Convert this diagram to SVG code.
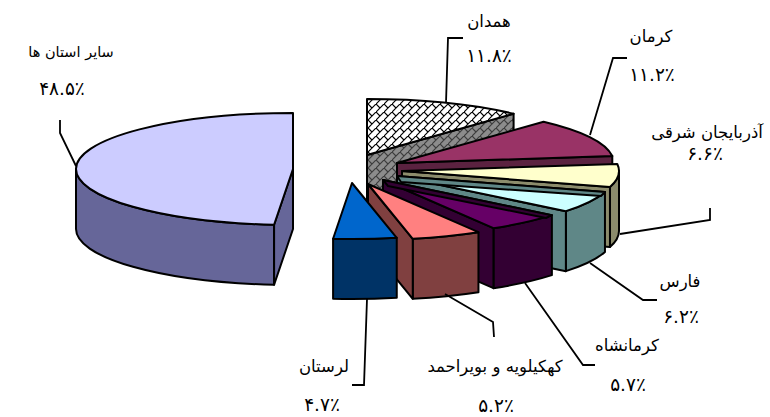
<svg xmlns="http://www.w3.org/2000/svg" width="770" height="417" viewBox="0 0 770 417">
<defs>
<pattern id="brickW" width="8" height="8" patternUnits="userSpaceOnUse">
<rect width="8" height="8" fill="#ffffff"/>
<path d="M-1,9 L9,-1 M0,0 L4,4" stroke="#000" stroke-width="1.2" fill="none"/>
</pattern>
<pattern id="brickG" width="8" height="8" patternUnits="userSpaceOnUse">
<rect width="8" height="8" fill="#8c8c8c"/>
<path d="M-1,9 L9,-1 M0,0 L4,4" stroke="#3c3c3c" stroke-width="1.2" fill="none"/>
</pattern>
</defs>
<style>
.f{stroke:#000;stroke-width:2;stroke-linejoin:round}
.ld{fill:none;stroke:#000;stroke-width:1.8}
text{font-family:"DejaVu Sans",sans-serif;font-size:16.5px;fill:#000;text-anchor:middle;direction:rtl}
text.n{font-size:18.5px}
text.s{font-size:14.5px}
</style>
<rect width="770" height="417" fill="#fff"/>

<g id="sayer">
<path class="f" fill="#666699" d="M76,169 A217,56 0 0 0 274.09,224.79 L274.09,284.79 A217,56 0 0 1 76,229 Z"/>
<path class="f" fill="#666699" d="M274.09,224.79 L293,169 L293,229 L274.09,284.79 Z"/>
<path class="f" fill="#CCCCFF" d="M293,169 L293,113 A217,56 0 0 0 76,169 A217,56 0 0 0 274.09,224.79 Z"/>
</g>

<g id="hamadan">
<path class="f" fill="url(#brickG)" d="M367,155 L513.6,113.71 L513.6,173.71 L367,215 Z"/>
<path class="f" fill="url(#brickW)" d="M367,155 L367,99 A217,56 0 0 1 513.6,113.71 Z"/>
</g>

<g id="kerman">
<path class="f" fill="#5B2240" d="M397,163 L612.29,155.98 L612.29,215.98 L397,223 Z"/>
<path class="f" fill="#993366" d="M397,163 L543.6,121.71 A217,56 0 0 1 612.29,155.98 Z"/>
</g>

<g id="azarbaijan">
<path class="f" fill="#8C8C6C" d="M609.96,187 A217,56 0 0 0 619,171 L619,231 A217,56 0 0 1 609.96,247 Z"/>
<path class="f" fill="#8C8C6C" d="M402,171 L609.96,187 L609.96,247 L402,231 Z"/>
<path class="f" fill="#FFFFCC" d="M402,171 L617.29,163.98 A217,56 0 0 1 609.96,187 Z"/>
</g>

<g id="fars">
<path class="f" fill="#5F8787" d="M565.88,211.17 A217,56 0 0 0 604.96,192 L604.96,252 A217,56 0 0 1 565.88,271.17 Z"/>
<path class="f" fill="#5F8787" d="M397,176 L565.88,211.17 L565.88,271.17 L397,236 Z"/>
<path class="f" fill="#CCFFFF" d="M397,176 L604.96,192 A217,56 0 0 1 565.88,211.17 Z"/>
<path class="f" fill="#5F8787" d="M397,176 L604.96,192 L601,196 L401,182 Z"/>
</g>

<g id="kermanshah">
<path class="f" fill="#330033" d="M493.46,228.2 A217,56 0 0 0 551.88,215.17 L551.88,275.17 A217,56 0 0 1 493.46,288.2 Z"/>
<path class="f" fill="#330033" d="M383,180 L493.46,228.2 L493.46,288.2 L383,240 Z"/>
<path class="f" fill="#660066" d="M383,180 L551.88,215.17 A217,56 0 0 1 493.46,228.2 Z"/>
<path class="f" fill="#330033" d="M383,180 L551.88,215.17 L546,218 L388,186 Z"/>
</g>

<g id="kohgiluyeh">
<path class="f" fill="#804040" d="M412.75,238.8 A217,56 0 0 0 478.46,232.2 L478.46,292.2 A217,56 0 0 1 412.75,298.8 Z"/>
<path class="f" fill="#804040" d="M368,184 L412.75,238.8 L412.75,298.8 L368,244 Z"/>
<path class="f" fill="#FF8080" d="M368,184 L478.46,232.2 A217,56 0 0 1 412.75,238.8 Z"/>
</g>

<g id="lorestan">
<path class="f" fill="#003366" d="M333.09,238.79 A217,56 0 0 0 396.75,237.8 L396.75,297.8 A217,56 0 0 1 333.09,298.79 Z"/>
<path class="f" fill="#0066CC" d="M352,183 L396.75,237.8 A217,56 0 0 1 333.09,238.79 Z"/>
</g>

<g id="connectors">
<polyline class="ld" points="60,120 60,133 76,166"/>
<polyline class="ld" points="446,103 448,38 463,38"/>
<polyline class="ld" points="590,135 613,58 627,58"/>
<polyline class="ld" points="620,234 710,220 710,208"/>
<polyline class="ld" points="590,263 643,300 657,300"/>
<polyline class="ld" points="525,283 583,365 595,365"/>
<polyline class="ld" points="445,294 493,322 494,337"/>
<polyline class="ld" points="367,299 364,385 352,385"/>
</g>

<g id="labels">
<text class="s" x="71" y="57">سایر استان ها</text>
<text class="n" x="62" y="95">۴۸.۵٪</text>
<text x="489" y="27">همدان</text>
<text class="n" x="489" y="62">۱۱.۸٪</text>
<text x="651" y="42">کرمان</text>
<text class="n" x="652" y="81">۱۱.۲٪</text>
<text x="707" y="138">آذربایجان شرقی</text>
<text class="n" x="705" y="160">۶.۶٪</text>
<text x="680" y="287">فارس</text>
<text class="n" x="681" y="323">۶.۲٪</text>
<text x="627" y="351">کرمانشاه</text>
<text class="n" x="628" y="391">۵.۷٪</text>
<text x="495" y="372">کهکیلویه و بویراحمد</text>
<text class="n" x="496" y="412">۵.۲٪</text>
<text x="324" y="372">لرستان</text>
<text class="n" x="322" y="411">۴.۷٪</text>
</g>
</svg>
